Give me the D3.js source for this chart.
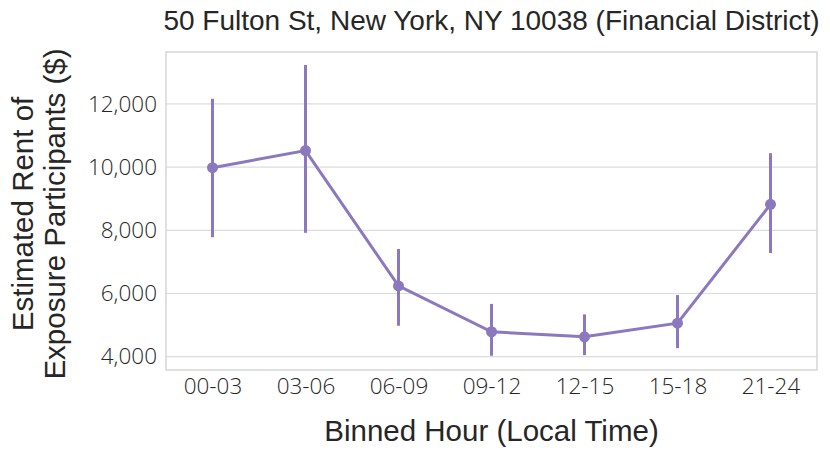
<!DOCTYPE html>
<html>
<head>
<meta charset="utf-8">
<script src="https://cdn.jsdelivr.net/npm/d3@7"></script>
<style>
  body { margin: 0; background: #fff; }
  text { fill: #262626; }
  .tick-lbl { font-family: "Open Sans", "Liberation Sans", sans-serif; font-weight: 300; font-size: 22.5px; }
  .ax-lbl { font-family: "Liberation Sans", Arial, sans-serif; font-size: 29.5px; }
</style>
</head>
<body>
<div class="chart-container"></div>
<script>
// Data
const bins = ["00-03", "03-06", "06-09", "09-12", "12-15", "15-18", "21-24"];
const rent = [9980, 10520, 6240, 4790, 4630, 5060, 8820];
const ciLow = [7780, 7920, 4980, 4030, 4050, 4270, 7280];
const ciHigh = [12160, 13230, 7410, 5670, 5340, 5950, 10440];
const yTicks = [4000, 6000, 8000, 10000, 12000];

const width = 830, height = 453;
const margin = { top: 52, bottom: 83, left: 166, right: 13 };
const purple = "#8c78be";

let svg = d3.select('.chart-container').append('svg')
  .attr("width", width).attr("height", height);

const x = d3.scalePoint()
  .domain(bins)
  .range([margin.left, width - margin.right])
  .padding(0.5);
const y = d3.scaleLinear()
  .domain([3580, 13640])
  .range([height - margin.bottom, margin.top]);

// grid
svg.append("g")
  .selectAll("line")
  .data(yTicks)
  .enter().append("line")
  .attr("x1", margin.left).attr("x2", width - margin.right)
  .attr("y1", d => y(d)).attr("y2", d => y(d))
  .attr("stroke", "#dcdcdc").attr("stroke-width", 1.2);

// frame
svg.append("rect")
  .attr("x", margin.left).attr("y", margin.top)
  .attr("width", width - margin.right - margin.left)
  .attr("height", height - margin.bottom - margin.top)
  .attr("fill", "none").attr("stroke", "#d6d6d6").attr("stroke-width", 1.5);

// y axis
const yAxis = svg.append("g")
  .attr("transform", `translate(${margin.left},0)`)
  .call(d3.axisLeft(y).tickValues(yTicks).tickFormat(d3.format(",")).tickSize(0).tickPadding(9));
yAxis.select(".domain").remove();
yAxis.selectAll("text").attr("class", "tick-lbl").attr("font-family", null).attr("font-size", null);

// x axis
const xAxis = svg.append("g")
  .attr("transform", `translate(0,${height - margin.bottom})`)
  .call(d3.axisBottom(x).tickSize(0).tickPadding(8));
xAxis.select(".domain").remove();
xAxis.selectAll("text").attr("class", "tick-lbl").attr("font-family", null).attr("font-size", null);

// error bars
svg.append("g")
  .selectAll("line")
  .data(bins)
  .enter().append("line")
  .attr("x1", d => x(d)).attr("x2", d => x(d))
  .attr("y1", (d, i) => y(ciLow[i]))
  .attr("y2", (d, i) => y(ciHigh[i]))
  .attr("stroke", purple).attr("stroke-width", 3);

// line
svg.append("path")
  .datum(bins)
  .attr("d", d3.line().x(d => x(d)).y((d, i) => y(rent[i])))
  .attr("fill", "none").attr("stroke", purple).attr("stroke-width", 3);

// points
svg.append("g")
  .selectAll("circle")
  .data(bins)
  .enter().append("circle")
  .attr("cx", d => x(d)).attr("cy", (d, i) => y(rent[i]))
  .attr("r", 5.5).attr("fill", purple);

// title
svg.append("text")
  .attr("x", (margin.left + width - margin.right) / 2)
  .attr("y", 30)
  .attr("text-anchor", "middle")
  .style("font-family", "Liberation Sans, Arial, sans-serif")
  .style("font-size", "28px")
  .text("50 Fulton St, New York, NY 10038 (Financial District)");

// x label
svg.append("text")
  .attr("class", "ax-lbl")
  .attr("x", (margin.left + width - margin.right) / 2)
  .attr("y", 441)
  .attr("text-anchor", "middle")
  .text("Binned Hour (Local Time)");

// y label
const yl = svg.append("text")
  .attr("class", "ax-lbl")
  .attr("text-anchor", "middle")
  .attr("transform", `translate(33,214) rotate(-90)`);
yl.append("tspan").attr("x", 0).attr("dy", 0).text("Estimated Rent of");
yl.append("tspan").attr("x", 0).attr("dy", 32).text("Exposure Participants ($)");
</script>
</body>
</html>
